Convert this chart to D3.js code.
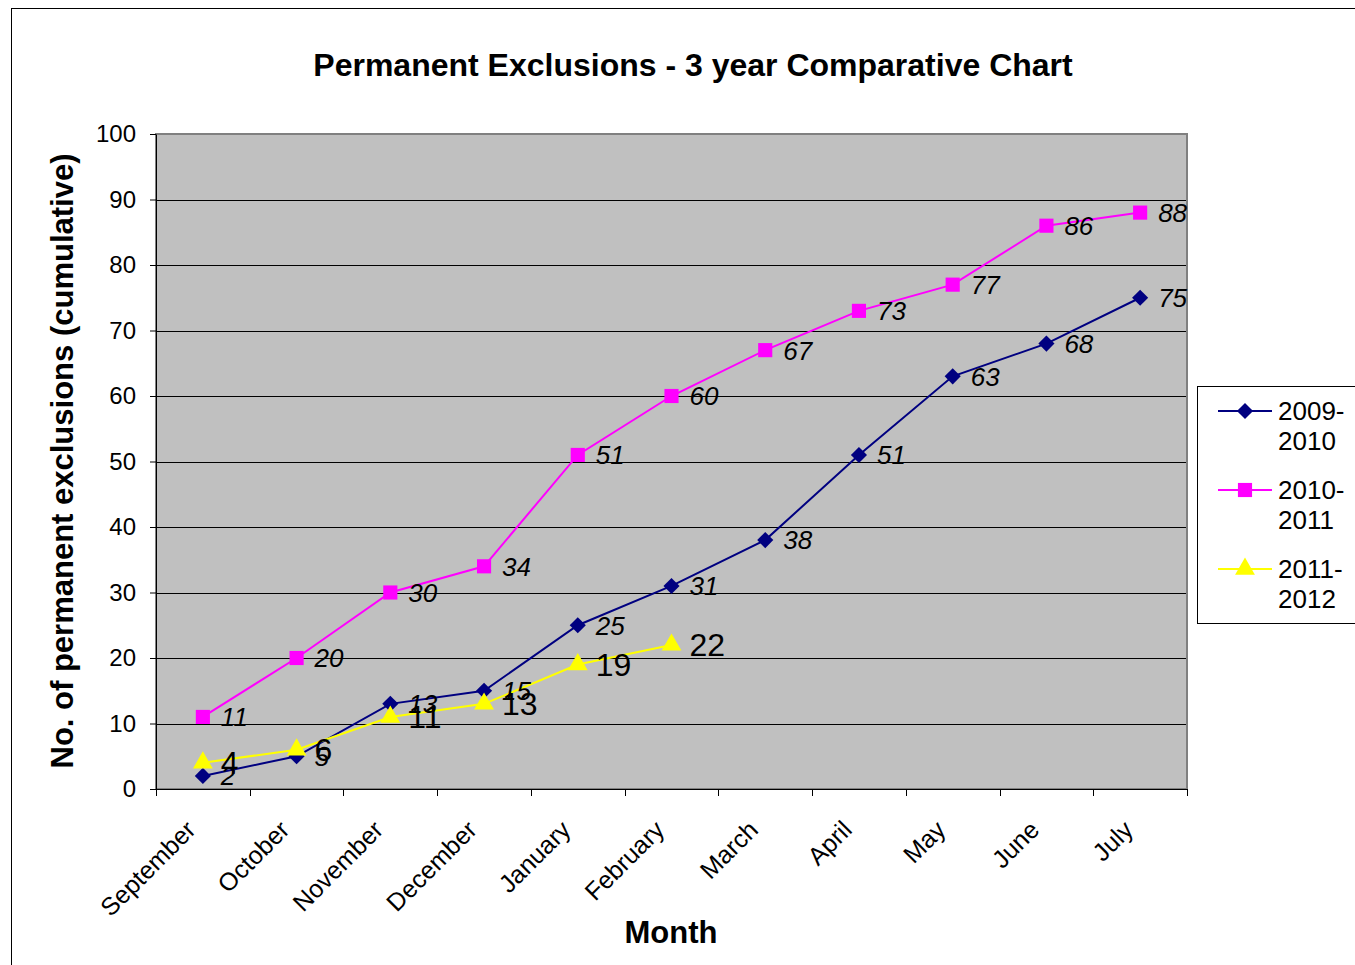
<!DOCTYPE html>
<html><head><meta charset="utf-8">
<script src="https://cdn.jsdelivr.net/npm/d3@7"></script>
<style>body{margin:0;background:#fff;} svg{display:block;font-family:"Liberation Sans",Arial,sans-serif;}</style>
</head><body>
<svg id="c" width="1355" height="965"></svg>
<script>
const months = ["September","October","November","December","January","February","March","April","May","June","July"];
const s2009 = [2,5,13,15,25,31,38,51,63,68,75];
const s2010 = [11,20,30,34,51,60,67,73,77,86,88];
const s2011 = [4,6,11,13,19,22];
const seriesNames = ["2009-2010","2010-2011","2011-2012"];
const yTicks = [0,10,20,30,40,50,60,70,80,90,100];

const svg = d3.select("#c");
const L=156, R=1187, T=134, B=789;
svg.append("rect").attr("x",11.5).attr("y",8.5).attr("width",1500).attr("height",1100).attr("fill","#fff").attr("stroke","#000").attr("stroke-width",1);

const x = d3.scalePoint().domain(months).range([L,R]).padding(0.5);
const xb = d3.scaleBand().domain(months).range([L,R]);
const y = d3.scaleLinear().domain([0,100]).range([B,T]);

svg.append("rect").attr("x",L).attr("y",T).attr("width",R-L).attr("height",B-T).attr("fill","#c0c0c0");
svg.append("g").selectAll("line").data(yTicks.filter(d=>d>0&&d<100)).join("line")
  .attr("x1",L).attr("x2",R).attr("y1",d=>Math.round(y(d))+0.5).attr("y2",d=>Math.round(y(d))+0.5)
  .attr("stroke","#000").attr("stroke-width",1);
svg.append("rect").attr("x",L).attr("y",T).attr("width",R-L).attr("height",B-T).attr("fill","none").attr("stroke","#808080").attr("stroke-width",2);

const ya = svg.append("g").attr("transform",`translate(${L},0)`)
  .call(d3.axisLeft(y).tickValues(yTicks).tickSize(6).tickSizeOuter(0).tickPadding(14));
ya.select(".domain").attr("stroke","#000");
ya.selectAll("line").attr("stroke","#000");
ya.selectAll("text").attr("font-size",24).attr("fill","#000").attr("font-family","'Liberation Sans',Arial,sans-serif");

const xTickPos = months.map(m=>xb(m)).concat([R]);
svg.append("line").attr("x1",L).attr("x2",R).attr("y1",B+0.5).attr("y2",B+0.5).attr("stroke","#000");
svg.append("g").selectAll("line").data(xTickPos).join("line")
  .attr("x1",d=>Math.round(d)+0.5).attr("x2",d=>Math.round(d)+0.5).attr("y1",B).attr("y2",B+7).attr("stroke","#000");
svg.append("g").selectAll("text").data(months).join("text")
  .attr("transform",d=>`translate(${x(d)-18},${B+30}) rotate(-45)`)
  .attr("text-anchor","end").attr("dy","0.7em").attr("font-size",25).attr("fill","#000").text(d=>d);

svg.append("text").attr("x",693).attr("y",76).attr("text-anchor","middle").attr("font-weight","bold").attr("font-size",32).text("Permanent Exclusions - 3 year Comparative Chart");
svg.append("text").attr("transform","translate(73,461) rotate(-90)").attr("text-anchor","middle").attr("font-weight","bold").attr("font-size",31).text("No. of permanent exclusions (cumulative)");
svg.append("text").attr("x",671).attr("y",943).attr("text-anchor","middle").attr("font-weight","bold").attr("font-size",31).text("Month");

const diamond = {draw(ctx,size){const r=Math.sqrt(size/2);ctx.moveTo(0,-r);ctx.lineTo(r,0);ctx.lineTo(0,r);ctx.lineTo(-r,0);ctx.closePath();}};
const series = [
  {name:seriesNames[0], vals:s2009, color:"#000080", sym:diamond, size:130, italic:true, fs:26},
  {name:seriesNames[1], vals:s2010, color:"#ff00ff", sym:d3.symbolSquare, size:200, italic:true, fs:26},
  {name:seriesNames[2], vals:s2011, color:"#ffff00", sym:d3.symbolTriangle, size:170, italic:false, fs:32}
];
const line = d3.line().x((d,i)=>x(months[i])).y(d=>y(d));
series.forEach(s=>{
  const g = svg.append("g");
  g.append("path").attr("d",line(s.vals)).attr("fill","none").attr("stroke",s.color).attr("stroke-width",2);
  g.selectAll("path.m").data(s.vals).join("path").attr("class","m")
    .attr("transform",(d,i)=>`translate(${x(months[i])},${y(d)})`)
    .attr("d",d3.symbol().type(s.sym).size(s.size)).attr("fill",s.color);
});
series.forEach(s=>{
  svg.append("g").selectAll("text").data(s.vals).join("text")
    .attr("x",(d,i)=>x(months[i])+18).attr("y",d=>y(d)).attr("dy","0.36em")
    .attr("font-size",s.fs).attr("font-style",s.italic?"italic":"normal").attr("fill","#000").text(d=>d);
});

const lg = svg.append("g");
lg.append("rect").attr("x",1197.5).attr("y",386.5).attr("width",200).attr("height",237).attr("fill","#fff").attr("stroke","#000");
series.forEach((s,i)=>{
  const cy = 411 + i*79;
  lg.append("line").attr("x1",1218).attr("x2",1272).attr("y1",cy).attr("y2",cy).attr("stroke",s.color).attr("stroke-width",2);
  lg.append("path").attr("transform",`translate(1245,${cy})`).attr("d",d3.symbol().type(s.sym).size(s.size)).attr("fill",s.color);
  const parts = s.name.split("-");
  const t = lg.append("text").attr("x",1278).attr("y",cy).attr("dy","0.36em").attr("font-size",26);
  t.append("tspan").attr("x",1278).text(parts[0]+"-");
  t.append("tspan").attr("x",1278).attr("dy","1.15em").text(parts[1]);
});
</script>
</body></html>
